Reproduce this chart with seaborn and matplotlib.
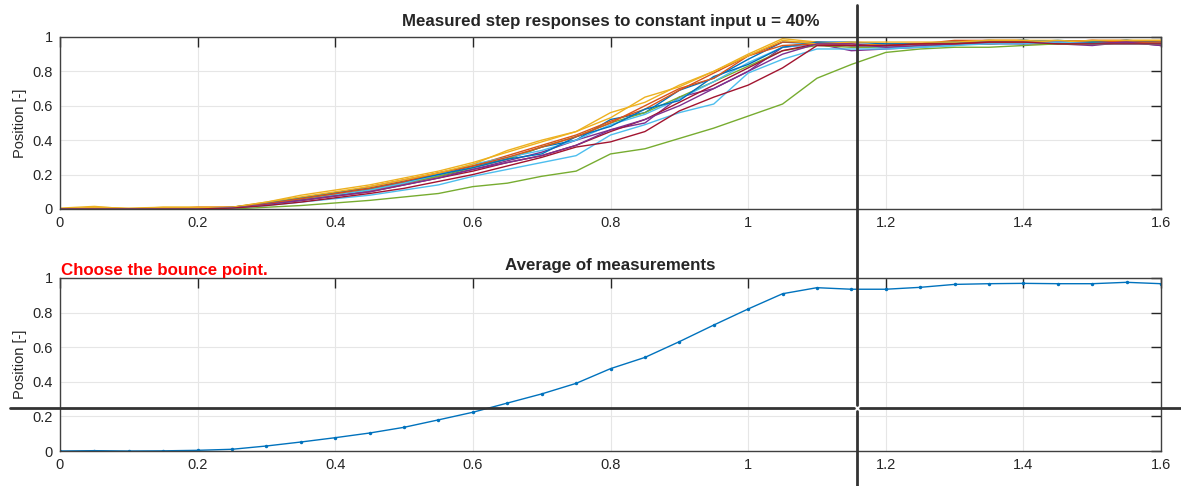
import pandas as pd
import seaborn as sns
import matplotlib.pyplot as plt
from matplotlib.lines import Line2D

# time samples [s]
t = [0, 0.05, 0.1, 0.15, 0.2, 0.25, 0.3, 0.35, 0.4, 0.45, 0.5, 0.55, 0.6, 0.65, 0.7, 0.75,
     0.8, 0.85, 0.9, 0.95, 1.0, 1.05, 1.1, 1.15, 1.2, 1.25, 1.3, 1.35, 1.4, 1.45, 1.5, 1.55, 1.6]

run01 = [0, 0, 0, 0, 0, 0.005, 0.03, 0.06, 0.09, 0.12, 0.16, 0.20, 0.25, 0.29, 0.36, 0.40, 0.52, 0.56, 0.69, 0.76, 0.87, 0.97, 0.96, 0.95, 0.95, 0.96, 0.97, 0.98, 0.97, 0.98, 0.97, 0.98, 0.96]
run02 = [0, 0, 0, 0, 0.005, 0.01, 0.035, 0.065, 0.09, 0.13, 0.17, 0.21, 0.25, 0.31, 0.37, 0.43, 0.51, 0.58, 0.69, 0.79, 0.89, 0.97, 0.97, 0.96, 0.95, 0.96, 0.98, 0.98, 0.98, 0.97, 0.98, 0.98, 0.97]
run03 = [0.005, 0.015, 0, 0.01, 0.01, 0.01, 0.04, 0.08, 0.11, 0.14, 0.18, 0.22, 0.27, 0.33, 0.39, 0.45, 0.56, 0.62, 0.72, 0.80, 0.90, 0.99, 0.97, 0.95, 0.96, 0.96, 0.97, 0.98, 0.98, 0.98, 0.97, 0.98, 0.98]
run04 = [0, 0, 0, 0, 0, 0.005, 0.03, 0.05, 0.08, 0.11, 0.15, 0.19, 0.23, 0.28, 0.33, 0.40, 0.46, 0.50, 0.65, 0.70, 0.80, 0.94, 0.96, 0.92, 0.93, 0.94, 0.96, 0.96, 0.97, 0.96, 0.95, 0.97, 0.95]
run05 = [0, 0, 0, 0, 0, 0.005, 0.03, 0.055, 0.08, 0.11, 0.15, 0.19, 0.24, 0.29, 0.36, 0.42, 0.50, 0.56, 0.65, 0.74, 0.83, 0.92, 0.95, 0.94, 0.94, 0.95, 0.96, 0.96, 0.97, 0.96, 0.97, 0.97, 0.96]
run06 = [0, 0, 0, 0, 0, 0.005, 0.03, 0.05, 0.08, 0.11, 0.15, 0.20, 0.26, 0.30, 0.34, 0.40, 0.49, 0.55, 0.64, 0.74, 0.85, 0.94, 0.96, 0.95, 0.94, 0.94, 0.95, 0.97, 0.98, 0.97, 0.96, 0.97, 0.96]
run07 = [0, 0, 0, 0, 0, 0.005, 0.025, 0.05, 0.075, 0.10, 0.14, 0.18, 0.22, 0.27, 0.31, 0.37, 0.45, 0.52, 0.62, 0.72, 0.82, 0.92, 0.96, 0.95, 0.95, 0.96, 0.97, 0.97, 0.96, 0.96, 0.96, 0.97, 0.96]
run08 = [0, 0, 0, 0, 0, 0.01, 0.035, 0.065, 0.095, 0.12, 0.16, 0.20, 0.24, 0.29, 0.32, 0.42, 0.48, 0.58, 0.63, 0.77, 0.84, 0.94, 0.97, 0.97, 0.96, 0.96, 0.97, 0.97, 0.98, 0.97, 0.97, 0.98, 0.97]
run09 = [0, 0, 0, 0, 0.01, 0.01, 0.03, 0.06, 0.09, 0.12, 0.16, 0.21, 0.25, 0.30, 0.36, 0.42, 0.50, 0.60, 0.70, 0.76, 0.89, 0.95, 0.96, 0.95, 0.95, 0.96, 0.96, 0.97, 0.97, 0.97, 0.98, 0.97, 0.97]
run10 = [0, 0.01, 0.005, 0.01, 0.01, 0.01, 0.04, 0.07, 0.10, 0.13, 0.17, 0.21, 0.26, 0.34, 0.40, 0.45, 0.53, 0.65, 0.71, 0.80, 0.89, 0.98, 0.96, 0.97, 0.97, 0.97, 0.97, 0.98, 0.98, 0.97, 0.98, 0.98, 0.98]
run11 = [0, 0, 0, 0, 0, 0.005, 0.025, 0.05, 0.075, 0.10, 0.14, 0.18, 0.23, 0.27, 0.31, 0.37, 0.46, 0.52, 0.60, 0.70, 0.80, 0.90, 0.96, 0.96, 0.94, 0.95, 0.96, 0.96, 0.96, 0.97, 0.96, 0.97, 0.95]
run12 = [0, 0, 0, 0, 0, 0, 0.01, 0.02, 0.035, 0.05, 0.07, 0.09, 0.13, 0.15, 0.19, 0.22, 0.32, 0.35, 0.41, 0.47, 0.54, 0.61, 0.76, 0.84, 0.91, 0.93, 0.94, 0.94, 0.95, 0.96, 0.96, 0.96, 0.96]
run13 = [0, 0, 0, 0, 0, 0.005, 0.02, 0.04, 0.06, 0.08, 0.11, 0.14, 0.19, 0.23, 0.27, 0.31, 0.43, 0.49, 0.56, 0.61, 0.79, 0.87, 0.93, 0.93, 0.93, 0.94, 0.95, 0.96, 0.96, 0.97, 0.96, 0.96, 0.96]
run14 = [0, 0, 0, 0, 0, 0.005, 0.02, 0.04, 0.065, 0.09, 0.12, 0.16, 0.20, 0.25, 0.30, 0.36, 0.39, 0.45, 0.57, 0.65, 0.72, 0.82, 0.95, 0.95, 0.95, 0.96, 0.96, 0.97, 0.97, 0.96, 0.96, 0.96, 0.96]
runs = [run01, run02, run03, run04, run05, run06, run07, run08, run09, run10, run11, run12, run13, run14]

# average of measurements (bottom plot)
avg = [0, 0.002, 0, 0.001, 0.004, 0.01, 0.029, 0.052, 0.077, 0.104, 0.137, 0.18, 0.224, 0.277, 0.33, 0.391,
       0.476, 0.541, 0.632, 0.728, 0.821, 0.909, 0.944, 0.935, 0.935, 0.946, 0.963, 0.967, 0.969, 0.967, 0.967, 0.975, 0.967]

matlab_colors = ['#0072BD', '#D95319', '#EDB120', '#7E2F8E', '#77AC30', '#4DBEEE', '#A2142F']

sns.set_style("white")
plt.rcParams['font.family'] = ['Liberation Sans', 'DejaVu Sans']
plt.rcParams['xtick.direction'] = 'in'
plt.rcParams['ytick.direction'] = 'in'

df = pd.DataFrame([(i, tt, v) for i, r in enumerate(runs) for tt, v in zip(t, r)],
                  columns=['run', 't', 'pos'])
df_avg = pd.DataFrame({'t': t, 'pos': avg})

fig = plt.figure(figsize=(11.81, 4.86), dpi=100)
ax1 = fig.add_axes([0.0508, 0.570, 0.9323, 0.354])
ax2 = fig.add_axes([0.0508, 0.072, 0.9323, 0.356])

palette = [matlab_colors[i % 7] for i in range(len(runs))]
sns.lineplot(data=df, x='t', y='pos', hue='run', palette=palette, ax=ax1,
             linewidth=1.0, legend=False, estimator=None)
sns.lineplot(data=df_avg, x='t', y='pos', ax=ax2, color='#0072BD', linewidth=1.0,
             marker='.', markersize=5, markeredgewidth=0)

ticks_x = [0, 0.2, 0.4, 0.6, 0.8, 1, 1.2, 1.4, 1.6]
ticks_y = [0, 0.2, 0.4, 0.6, 0.8, 1]
for ax in (ax1, ax2):
    ax.set_xlim(0, 1.6)
    ax.set_ylim(0, 1)
    ax.set_xticks(ticks_x)
    ax.set_xticklabels([f'{v:g}' for v in ticks_x])
    ax.set_yticks(ticks_y)
    ax.set_yticklabels([f'{v:g}' for v in ticks_y])
    ax.grid(True, color='#e6e6e6', linewidth=0.8)
    ax.tick_params(labelsize=10.5, colors='#262626', length=7, width=1,
                   top=True, right=True, pad=5)
    for s in ax.spines.values():
        s.set_color('#404040')
        s.set_linewidth(1.0)
    ax.set_xlabel('')
    ax.set_ylabel('Position [-]', fontsize=10.5, color='#262626', labelpad=4)

ax1.set_title('Measured step responses to constant input u = 40%', fontsize=12.2,
              fontweight='bold', pad=8)
ax2.set_title('Average of measurements', fontsize=12.2, fontweight='bold', pad=6)
fig.text(61 / 1181, 1 - 270 / 486, 'Choose the bounce point.', color='red',
         fontsize=12.2, fontweight='bold', va='center', ha='left')

# crosshair cursor from the point picker
W, H = 1181, 486
cx, cy, gap = 857, 408, 3
kw = dict(color='#333333', linewidth=2, transform=fig.transFigure)
fig.add_artist(Line2D([cx / W, cx / W], [1 - 5 / H, 1 - (cy - gap) / H], **kw))
fig.add_artist(Line2D([cx / W, cx / W], [1 - (cy + gap) / H, 0], **kw))
fig.add_artist(Line2D([10 / W, (cx - gap) / W], [1 - cy / H, 1 - cy / H], **kw))
fig.add_artist(Line2D([(cx + gap) / W, 1], [1 - cy / H, 1 - cy / H], **kw))

fig.savefig('out.png', dpi=100)
